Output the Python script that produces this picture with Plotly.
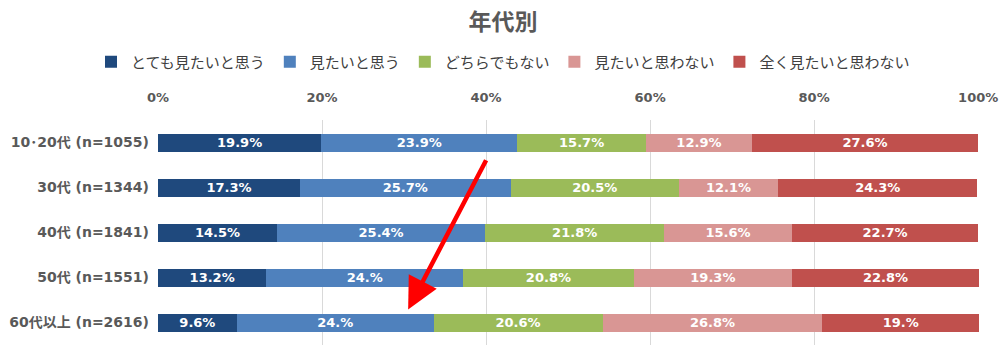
import plotly.graph_objects as go

categories = ["10･20代 (n=1055)", "30代 (n=1344)", "40代 (n=1841)", "50代 (n=1551)", "60代以上 (n=2616)"]
series_names = ["とても見たいと思う", "見たいと思う", "どちらでもない", "見たいと思わない", "全く見たいと思わない"]
very_want = [19.9, 17.3, 14.5, 13.2, 9.6]
want = [23.9, 25.7, 25.4, 24.0, 24.0]
neutral = [15.7, 20.5, 21.8, 20.8, 20.6]
not_want = [12.9, 12.1, 15.6, 19.3, 26.8]
not_at_all = [27.6, 24.3, 22.7, 22.8, 19.1]
label_texts = [
    ["19.9%", "17.3%", "14.5%", "13.2%", "9.6%"],
    ["23.9%", "25.7%", "25.4%", "24.%", "24.%"],
    ["15.7%", "20.5%", "21.8%", "20.8%", "20.6%"],
    ["12.9%", "12.1%", "15.6%", "19.3%", "26.8%"],
    ["27.6%", "24.3%", "22.7%", "22.8%", "19.%"],
]
tick_vals = [0, 20, 40, 60, 80, 100]
tick_text = ["0%", "20%", "40%", "60%", "80%", "100%"]
colors = ["#1F497D", "#4F81BD", "#9BBB59", "#D99694", "#C0504D"]

CJK = "Noto Sans CJK JP"
MIX = "DejaVu Sans, Noto Sans CJK JP"
series = [very_want, want, neutral, not_want, not_at_all]

fig = go.Figure()
for name, vals, txt, col in zip(series_names, series, label_texts, colors):
    fig.add_trace(go.Bar(
        y=list(range(len(categories))), x=vals, name=name, orientation="h",
        marker=dict(color=col, line=dict(width=0)),
        text=txt, textposition="inside", insidetextanchor="middle",
        textfont=dict(color="white", size=13, family=MIX, weight="bold"),
        textangle=0, cliponaxis=False, constraintext="none",
    ))

# arrow annotation
fig.add_annotation(
    x=30.5, y=3.71, ax=40.1, ay=0.36, xref="x", yref="y", axref="x", ayref="y",
    showarrow=True, arrowhead=2, arrowsize=1.4, arrowwidth=4.5, arrowcolor="#FF0000", text="",
)

fig.update_layout(
    width=1006, height=363,
    barmode="stack", bargap=0.6,
    plot_bgcolor="white", paper_bgcolor="white",
    margin=dict(l=158, r=27, t=120, b=18, autoexpand=False),
    title=dict(text="<b>年代別</b>", x=0.5, xref="container", y=1 - 22 / 363, yref="container",
               xanchor="center", yanchor="middle",
               font=dict(family=CJK, size=23, color="#595959")),
    legend=dict(orientation="h", x=0.5, xref="container", xanchor="center",
                y=1 - 62 / 363, yref="container", yanchor="middle",
                font=dict(family=CJK, size=15, color="#404040"),
                traceorder="normal", itemwidth=30, tracegroupgap=0),
    font=dict(family=CJK),
    showlegend=True,
)
fig.update_xaxes(range=[0, 100.1], side="top", tickvals=tick_vals, ticktext=tick_text,
                 showgrid=True, gridcolor="#D9D9D9", gridwidth=1, zeroline=False,
                 tickfont=dict(family=MIX, size=13, color="#595959", weight="bold"),
                 ticklabelstandoff=14, showline=False, automargin=False)
fig.update_yaxes(tickvals=list(range(len(categories))), ticktext=categories,
                 range=[4.5, -0.5], showgrid=False, zeroline=False,
                 tickfont=dict(family=MIX, size=14, color="#595959", weight="bold"),
                 ticklabelstandoff=8, automargin=False)

fig.write_html("out.html", post_script="document.body.style.margin='0';",
               config={"displayModeBar": False})
